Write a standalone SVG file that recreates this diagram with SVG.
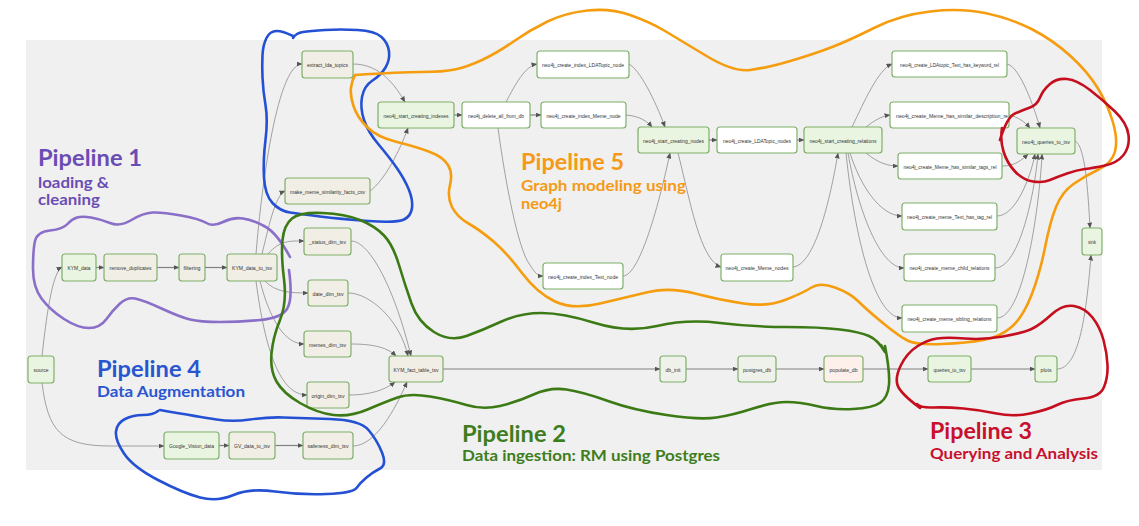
<svg xmlns="http://www.w3.org/2000/svg" width="1139" height="526" viewBox="0 0 1139 526">
<defs>
<marker id="ah" markerUnits="userSpaceOnUse" markerWidth="6" markerHeight="5" refX="5.5" refY="2.5" orient="auto">
<path d="M0,0 L6,2.5 L0,5 z" fill="#555"/>
</marker>
<style>
.node rect{stroke:#7fb069;stroke-width:1.2}
.g rect{fill:#eaf5e1}
.b rect{fill:#f1eee5}
.w rect{fill:#ffffff}
.p rect{fill:#fdf0eb}
.q rect{fill:#eef2ea}
.node text{font-family:"Liberation Sans",Arial,sans-serif;font-size:6.2px;fill:#333;text-anchor:middle;dominant-baseline:central}
.c path{fill:none;stroke:#8c8c8c;stroke-width:0.8;marker-end:url(#ah)}
.c path.m{stroke:#808080;stroke-width:1.2}
.ann{fill:none;stroke-width:2.6;stroke-linecap:round;stroke-linejoin:round}
.lbl{font-family:Lato,"Noto Sans","Liberation Sans",sans-serif;font-weight:bold}
.t1{font-size:23px}
.t2{font-size:15px}
</style>
</defs>
<rect x="26" y="40" width="1076" height="430" fill="#f0f0f0"/>

<g id="connectors" class="c">
<path d="M42,356 C46,320 52,272 62,267"/>
<path d="M42,383 C48,430 60,446 110,446 L164,446"/>
<path class="m" d="M96,267.5 L104,267.5"/>
<path class="m" d="M157,267.5 L179,267.5"/>
<path class="m" d="M205,267.5 L227,267.5"/>
<path d="M256,254 C262,180 278,64 302,64"/>
<path d="M262,254 C268,230 275,195 285,191"/>
<path d="M268,254 C280,240 290,241 304,241"/>
<path d="M265,281 C275,292 290,293 308,293"/>
<path d="M260,281 C270,320 285,344 304,344"/>
<path d="M256,281 C265,350 280,395 307,395"/>
<path d="M353,64 C380,64 395,85 405,102"/>
<path d="M370,191 C385,180 400,150 408,128"/>
<path d="M351,241 C370,241 395,290 411,356"/>
<path d="M348,293 C370,293 400,320 408,356"/>
<path d="M351,344 C375,344 388,348 396,356"/>
<path d="M349,395 C370,395 385,390 395,382"/>
<path d="M353,446 C375,446 395,410 407,382"/>
<path class="m" d="M219,445.5 L229,445.5"/>
<path class="m" d="M275,445.5 L303,445.5"/>
<path class="m" d="M443,369 L660,369"/>
<path class="m" d="M686,369 L738,369"/>
<path class="m" d="M776,369 L824,369"/>
<path class="m" d="M863,369 L928,369"/>
<path class="m" d="M971,369 L1035,369"/>
<path d="M1057,369 C1078,369 1086,320 1091,255"/>
<path d="M1075,141 C1085,145 1088,190 1090,228"/>
<path class="m" d="M454,115 L462,115"/>
<path d="M506,102 C515,85 525,66 537,64"/>
<path class="m" d="M530,115 L541,115"/>
<path d="M498,128 C505,180 518,250 530,265 C535,273 538,276 543,276"/>
<path d="M629,64 C640,70 655,100 665,127"/>
<path d="M626,115 C640,116 648,122 652,127"/>
<path d="M623,276 C640,276 660,200 670,153"/>
<path class="m" d="M709,140 L717,140"/>
<path d="M678,153 C690,200 700,260 721,267"/>
<path class="m" d="M797,140 L804,140"/>
<path d="M793,267 C815,265 830,200 838,153"/>
<path d="M852,127 C865,100 878,70 892,64"/>
<path d="M866,127 C875,120 882,116 890,115"/>
<path d="M866,153 C878,163 888,166 898,166"/>
<path d="M850,153 C860,185 880,216 902,216"/>
<path d="M848,153 C858,210 880,268 904,268"/>
<path d="M846,153 C855,240 875,318 902,318"/>
<path d="M1007,64 C1020,66 1035,110 1040,128"/>
<path d="M1009,115 C1018,117 1025,122 1030,128"/>
<path d="M1002,166 C1015,166 1022,160 1028,154"/>
<path d="M997,216 C1015,216 1030,180 1035,154"/>
<path d="M995,268 C1020,268 1035,190 1038,154"/>
<path d="M997,318 C1025,318 1040,200 1042,154"/>
</g>

<g id="n-source" class="node g"><rect x="28" y="356" width="26" height="27" rx="3"/><text x="41" y="369.5" textLength="15" lengthAdjust="spacingAndGlyphs">source</text></g>
<g id="n-KYM_data" class="node g"><rect x="62" y="254" width="34" height="27" rx="3"/><text x="79" y="267.5" textLength="23" lengthAdjust="spacingAndGlyphs">KYM_data</text></g>
<g id="n-remove_duplicates" class="node b"><rect x="104" y="254" width="53" height="27" rx="3"/><text x="130.5" y="267.5" textLength="42" lengthAdjust="spacingAndGlyphs">remove_duplicates</text></g>
<g id="n-filtering" class="node b"><rect x="179" y="254" width="26" height="27" rx="3"/><text x="192" y="267.5" textLength="17" lengthAdjust="spacingAndGlyphs">filtering</text></g>
<g id="n-KYM_data_to_tsv" class="node b"><rect x="227" y="254" width="50" height="27" rx="3"/><text x="252" y="267.5" textLength="40" lengthAdjust="spacingAndGlyphs">KYM_data_to_tsv</text></g>
<g id="n-extract_lda_topics" class="node b"><rect x="302" y="51" width="51" height="27" rx="3"/><text x="327.5" y="64.5" textLength="41" lengthAdjust="spacingAndGlyphs">extract_lda_topics</text></g>
<g id="n-make_meme_similarity_facts_csv" class="node b"><rect x="285" y="178" width="85" height="26" rx="3"/><text x="327.5" y="191" textLength="75" lengthAdjust="spacingAndGlyphs">make_meme_similarity_facts_csv</text></g>
<g id="n-status_dim_tsv" class="node b"><rect x="304" y="228" width="47" height="27" rx="3"/><text x="327.5" y="241.5" textLength="37" lengthAdjust="spacingAndGlyphs">_status_dim_tsv</text></g>
<g id="n-date_dim_tsv" class="node b"><rect x="308" y="280" width="40" height="26" rx="3"/><text x="328" y="293" textLength="31" lengthAdjust="spacingAndGlyphs">date_dim_tsv</text></g>
<g id="n-memes_dim_tsv" class="node b"><rect x="304" y="331" width="47" height="26" rx="3"/><text x="327.5" y="344" textLength="37" lengthAdjust="spacingAndGlyphs">memes_dim_tsv</text></g>
<g id="n-origin_dim_tsv" class="node b"><rect x="307" y="382" width="42" height="26" rx="3"/><text x="328" y="395" textLength="33" lengthAdjust="spacingAndGlyphs">origin_dim_tsv</text></g>
<g id="n-KYM_fact_table_tsv" class="node b"><rect x="389" y="356" width="54" height="26" rx="3"/><text x="416" y="369" textLength="45" lengthAdjust="spacingAndGlyphs">KYM_fact_table_tsv</text></g>
<g id="n-Google_Vision_data" class="node g"><rect x="164" y="432" width="55" height="27" rx="3"/><text x="191.5" y="445.5" textLength="45" lengthAdjust="spacingAndGlyphs">Google_Vision_data</text></g>
<g id="n-GV_data_to_tsv" class="node b"><rect x="229" y="432" width="46" height="27" rx="3"/><text x="252" y="445.5" textLength="36" lengthAdjust="spacingAndGlyphs">GV_data_to_tsv</text></g>
<g id="n-safeness_dim_tsv" class="node b"><rect x="303" y="432" width="50" height="27" rx="3"/><text x="328" y="445.5" textLength="41" lengthAdjust="spacingAndGlyphs">safeness_dim_tsv</text></g>
<g id="n-neo4j_start_creating_indexes" class="node g"><rect x="378" y="102" width="76" height="26" rx="3"/><text x="416" y="115" textLength="65" lengthAdjust="spacingAndGlyphs">neo4j_start_creating_indexes</text></g>
<g id="n-neo4j_delete_all_from_db" class="node w"><rect x="462" y="102" width="68" height="26" rx="3"/><text x="496" y="115" textLength="56" lengthAdjust="spacingAndGlyphs">neo4j_delete_all_from_db</text></g>
<g id="n-neo4j_create_index_LDATopic_node" class="node w"><rect x="537" y="51" width="92" height="27" rx="3"/><text x="583" y="64.5" textLength="82" lengthAdjust="spacingAndGlyphs">neo4j_create_index_LDATopic_node</text></g>
<g id="n-neo4j_create_index_Meme_node" class="node w"><rect x="541" y="102" width="85" height="26" rx="3"/><text x="583.5" y="115" textLength="74" lengthAdjust="spacingAndGlyphs">neo4j_create_index_Meme_node</text></g>
<g id="n-neo4j_create_index_Text_node" class="node w"><rect x="543" y="263" width="80" height="26" rx="3"/><text x="583" y="276" textLength="70" lengthAdjust="spacingAndGlyphs">neo4j_create_index_Text_node</text></g>
<g id="n-neo4j_start_creating_nodes" class="node g"><rect x="638" y="127" width="71" height="26" rx="3"/><text x="673.5" y="140" textLength="61" lengthAdjust="spacingAndGlyphs">neo4j_start_creating_nodes</text></g>
<g id="n-neo4j_create_LDATopic_nodes" class="node w"><rect x="717" y="127" width="80" height="26" rx="3"/><text x="757" y="140" textLength="68" lengthAdjust="spacingAndGlyphs">neo4j_create_LDATopic_nodes</text></g>
<g id="n-neo4j_create_Meme_nodes" class="node w"><rect x="721" y="254" width="72" height="27" rx="3"/><text x="757" y="267.5" textLength="63" lengthAdjust="spacingAndGlyphs">neo4j_create_Meme_nodes</text></g>
<g id="n-neo4j_start_creating_relations" class="node g"><rect x="804" y="127" width="78" height="26" rx="3"/><text x="843" y="140" textLength="67" lengthAdjust="spacingAndGlyphs">neo4j_start_creating_relations</text></g>
<g id="n-keyword_rel" class="node w"><rect x="892" y="51" width="115" height="26" rx="3"/><text x="949.5" y="64" textLength="99" lengthAdjust="spacingAndGlyphs">neo4j_create_LDAtopic_Text_has_keyword_rel</text></g>
<g id="n-similar_description_rel" class="node w"><rect x="890" y="102" width="119" height="26" rx="3"/><text x="952" y="115" textLength="112" lengthAdjust="spacingAndGlyphs">neo4j_create_Meme_has_similar_description_re</text></g>
<g id="n-similar_tags_rel" class="node w"><rect x="898" y="153" width="104" height="26" rx="3"/><text x="950" y="166" textLength="93" lengthAdjust="spacingAndGlyphs">neo4j_create_Meme_has_similar_tags_rel</text></g>
<g id="n-Text_has_tag_rel" class="node w"><rect x="902" y="203" width="95" height="27" rx="3"/><text x="949.5" y="216.5" textLength="85" lengthAdjust="spacingAndGlyphs">neo4j_create_meme_Text_has_tag_rel</text></g>
<g id="n-child_relations" class="node w"><rect x="904" y="254" width="91" height="27" rx="3"/><text x="949.5" y="267.5" textLength="80" lengthAdjust="spacingAndGlyphs">neo4j_create_meme_child_relations</text></g>
<g id="n-sibling_relations" class="node w"><rect x="902" y="305" width="95" height="27" rx="3"/><text x="949.5" y="318.5" textLength="84" lengthAdjust="spacingAndGlyphs">neo4j_create_meme_sibling_relations</text></g>
<g id="n-neo4j_queries_to_tsv" class="node g"><rect x="1017" y="128" width="58" height="26" rx="3"/><text x="1046" y="141" textLength="48" lengthAdjust="spacingAndGlyphs">neo4j_queries_to_tsv</text></g>
<g id="n-sink" class="node g"><rect x="1082" y="228" width="20" height="27" rx="3"/><text x="1092" y="241.5" textLength="8" lengthAdjust="spacingAndGlyphs">sink</text></g>
<g id="n-db_init" class="node q"><rect x="660" y="356" width="26" height="26" rx="3"/><text x="673" y="369" textLength="15" lengthAdjust="spacingAndGlyphs">db_init</text></g>
<g id="n-postgres_db" class="node q"><rect x="738" y="356" width="38" height="26" rx="3"/><text x="757" y="369" textLength="28" lengthAdjust="spacingAndGlyphs">postgres_db</text></g>
<g id="n-populate_db" class="node p"><rect x="824" y="356" width="39" height="26" rx="3"/><text x="843.5" y="369" textLength="28" lengthAdjust="spacingAndGlyphs">populate_db</text></g>
<g id="n-queries_to_tsv" class="node g"><rect x="928" y="356" width="43" height="26" rx="3"/><text x="949.5" y="369" textLength="32" lengthAdjust="spacingAndGlyphs">queries_to_tsv</text></g>
<g id="n-plots" class="node g"><rect x="1035" y="356" width="22" height="26" rx="3"/><text x="1046" y="369" textLength="11" lengthAdjust="spacingAndGlyphs">plots</text></g>

<g id="annotations">
<path class="ann" stroke="#8a6fc8" d="M289,270 Q293,300 287,309 Q281,318 260.5,320 Q240,322 220,322 Q200,322 190,319.5 Q180,317 161.5,308.5 Q143,300 135,298.5 Q127,297 120,303.5 Q113,310 106.5,319 Q100,328 89,328 Q78,328 64,319 Q50,310 41.5,298.5 Q33,287 33,268.5 Q33,250 35,241 Q37,232 50,230.5 Q63,229 67.5,224 Q72,219 77,217.5 Q82,216 91,217.5 Q100,219 110,223 Q120,227 131.5,220 Q143,213 152.5,212.5 Q162,212 181,215.5 Q200,219 206.5,223 Q213,227 223,222 Q233,217 243,218.5 Q253,220 265,226.5 Q277,233 290,257"/>
<path class="ann" stroke="#2450d4" d="M293,36 Q283,31 276.5,31 Q270,31 266.5,38 Q263,45 262.5,55 Q262,65 262.5,77.5 Q263,90 265.5,105 Q268,120 265.5,140 Q263,160 264,177.5 Q265,195 272.5,203 Q280,211 290,212.5 Q300,214 320,216.5 Q340,219 368.5,221 Q397,223 404,219.5 Q411,216 412,208 Q413,200 409,190 Q405,180 397.5,169 Q390,158 379,145 Q368,132 364,120 Q360,108 362,97 Q364,86 372.5,80.5 Q381,75 385.5,67.5 Q390,60 389,51.5 Q388,43 381.5,37 Q375,31 357.5,30 Q340,29 325,30 Q310,31 303,32 Q296,33 293,38"/>
<path class="ann" stroke="#2450d4" d="M160,410 Q200,417 216.5,419.5 Q233,422 250,419.5 Q267,417 283.5,417.5 Q300,418 330,419 Q360,420 368.5,430 Q377,440 382,452.5 Q387,465 380,468.5 Q373,472 366.5,477.5 Q360,483 356.5,488 Q353,493 326.5,494 Q300,495 275,491.5 Q250,488 233.5,495 Q217,502 200,497.5 Q183,493 158,480 Q133,467 124,453.5 Q115,440 116,431.5 Q117,423 125,419 Q133,415 143,415 Q153,415 158,411"/>
<path class="ann" stroke="#3b7a14" d="M885,346 Q890,372 889,384.5 Q888,397 880.5,402.5 Q873,408 853,409 Q833,410 816.5,406 Q800,402 786.5,402 Q773,402 753,408.5 Q733,415 716.5,417.5 Q700,420 666.5,415 Q633,410 608,401 Q583,392 566.5,389.5 Q550,387 533.5,394.5 Q517,402 500,406 Q483,410 466.5,405 Q450,400 430,396.5 Q410,393 397.5,397.5 Q385,402 367.5,409.5 Q350,417 333.5,415 Q317,413 300,403 Q283,393 276.5,381.5 Q270,370 271.5,353.5 Q273,337 280,320 Q287,303 284,279 Q281,255 282.5,240 Q284,225 292,218.5 Q300,212 322.5,213 Q345,214 360,220 Q375,226 384,235.5 Q393,245 399,265 Q405,285 411.5,303.5 Q418,322 434,332 Q450,342 466.5,336 Q483,330 501.5,321.5 Q520,313 541.5,313 Q563,313 595,323 Q627,333 657,326 Q687,319 720,323 Q753,327 786.5,327 Q820,327 840,329.5 Q860,332 869,336 Q878,340 885,352 L881,345"/>
<path class="ann" stroke="#f59d0e" d="M355,75 Q400,72 421.5,72 Q443,72 455,69.5 Q467,67 482,60 Q497,53 513.5,41.5 Q530,30 547.5,21.5 Q565,13 587.5,10.5 Q610,8 630,15 Q650,22 665,31 Q680,40 706.5,56 Q733,72 750,70 Q767,68 792,60.5 Q817,53 833.5,46.5 Q850,40 875,27.5 Q900,15 930,11.5 Q960,8 985,13 Q1010,18 1031.5,29 Q1053,40 1070.5,56 Q1088,72 1098,88.5 Q1108,105 1113,122.5 Q1118,140 1115,151.5 Q1112,163 1098.5,169.5 Q1085,176 1073.5,184 Q1062,192 1056,207 Q1050,222 1045,247.5 Q1040,273 1031.5,295 Q1023,317 1011.5,327 Q1000,337 983.5,340 Q967,343 942,344 Q917,345 908.5,341 Q900,337 883.5,323.5 Q867,310 858.5,301.5 Q850,293 835,287.5 Q820,282 811.5,287.5 Q803,293 785,300 Q767,307 743.5,303.5 Q720,300 695,293.5 Q670,287 648.5,292 Q627,297 600,303.5 Q573,310 555,301.5 Q537,293 522,273 Q507,253 493.5,241.5 Q480,230 468.5,223.5 Q457,217 452,207 Q447,197 450,185 Q453,173 448,165 Q443,157 430,152 Q417,147 397,142 Q377,137 367,127 Q357,117 353.5,106 Q350,95 351,87.5 Q352,80 355,75"/>
<path class="ann" stroke="#c50f1f" d="M1000,140 Q1007,117 1015,113.5 Q1023,110 1030,107.5 Q1037,105 1040,97.5 Q1043,90 1050,84 Q1057,78 1067,79 Q1077,80 1090,90 Q1103,100 1115,111.5 Q1127,123 1128.5,135 Q1130,147 1123.5,155 Q1117,163 1105,165.5 Q1093,168 1085,169 Q1077,170 1067,173.5 Q1057,177 1050,180 Q1043,183 1033,181.5 Q1023,180 1015,171.5 Q1007,163 1003.5,151.5 Q1000,140 1002,128"/>
<path class="ann" stroke="#c50f1f" d="M920,408 Q900,393 897.5,385 Q895,377 901,365 Q907,353 917,346.5 Q927,340 937,338.5 Q947,337 965,338.5 Q983,340 1003,336.5 Q1023,333 1031.5,329 Q1040,325 1051.5,314.5 Q1063,304 1074,306 Q1085,308 1092.5,317.5 Q1100,327 1103.5,340 Q1107,353 1107.5,365 Q1108,377 1104,387 Q1100,397 1083.5,398.5 Q1067,400 1057,405 Q1047,410 1030,413.5 Q1013,417 996.5,413.5 Q980,410 963.5,408.5 Q947,407 933.5,407.5 Q920,408 917,404"/>
</g>

<g id="labels" class="lbl">
<text class="t1" x="38" y="166" fill="#6a4db3" textLength="104" lengthAdjust="spacingAndGlyphs">Pipeline 1</text>
<text class="t2" x="38" y="188" fill="#6a4db3" textLength="71" lengthAdjust="spacingAndGlyphs">loading &amp;</text>
<text class="t2" x="38" y="205" fill="#6a4db3" textLength="62" lengthAdjust="spacingAndGlyphs">cleaning</text>
<text class="t1" x="97" y="377" fill="#2a55d0" textLength="104" lengthAdjust="spacingAndGlyphs">Pipeline 4</text>
<text class="t2" x="97" y="397" fill="#2a55d0" textLength="148" lengthAdjust="spacingAndGlyphs">Data Augmentation</text>
<text class="t1" x="521" y="170" fill="#f59a16" textLength="103" lengthAdjust="spacingAndGlyphs">Pipeline 5</text>
<text class="t2" x="521" y="191" fill="#f59a16" textLength="165" lengthAdjust="spacingAndGlyphs">Graph modeling using</text>
<text class="t2" x="521" y="209" fill="#f59a16" textLength="41" lengthAdjust="spacingAndGlyphs">neo4j</text>
<text class="t1" x="462" y="442" fill="#3e7d1c" textLength="104" lengthAdjust="spacingAndGlyphs">Pipeline 2</text>
<text class="t2" x="462" y="461" fill="#3e7d1c" textLength="258" lengthAdjust="spacingAndGlyphs">Data ingestion: RM using Postgres</text>
<text class="t1" x="930" y="439" fill="#c8102e" textLength="102" lengthAdjust="spacingAndGlyphs">Pipeline 3</text>
<text class="t2" x="930" y="459" fill="#c8102e" textLength="168" lengthAdjust="spacingAndGlyphs">Querying and Analysis</text>
</g>
</svg>
